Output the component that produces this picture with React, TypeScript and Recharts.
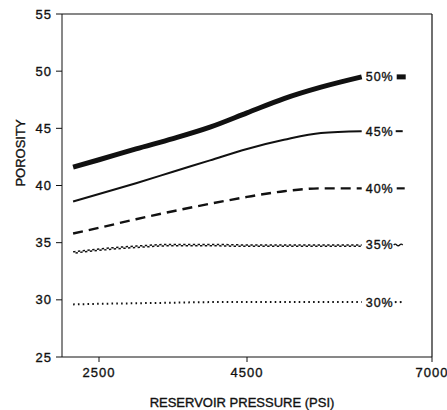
import { LineChart, Line, XAxis, YAxis, ReferenceLine } from 'recharts'

// pressure (psi) at which the curves were read
const pressure = [2150, 2500, 3000, 3500, 4000, 4500, 5000, 5500, 6050]
// porosity curves, one per label
const por50 = [41.6, 42.25, 43.2, 44.1, 45.1, 46.35, 47.6, 48.6, 49.5]
const por45 = [38.6, 39.25, 40.2, 41.2, 42.2, 43.2, 44.0, 44.6, 44.75]
const por40 = [35.8, 36.3, 37.05, 37.75, 38.4, 39.0, 39.5, 39.75, 39.75]
const por35 = [34.2, 34.45, 34.7, 34.85, 34.85, 34.8, 34.8, 34.8, 34.8]
const por30 = [29.6, 29.65, 29.7, 29.75, 29.8, 29.8, 29.8, 29.8, 29.8]

const yTicks = [25, 30, 35, 40, 45, 50, 55]
const xTicks = [2500, 4500, 7000]

const data = pressure.map((p, i) => ({
  p,
  por50: por50[i],
  por45: por45[i],
  por40: por40[i],
  por35: por35[i],
  por30: por30[i],
}))

const last = pressure.length - 1
const ink = '#111'
const font = '"Liberation Sans", Arial, Helvetica, sans-serif'
// scanned text is a bit heavier than a plain regular weight
const heavy = { stroke: ink, strokeWidth: 0.35 }

// label + little style sample at the end of each curve
const endLabel = (text: string, kind: string) => (props: any) => {
  if (props.index !== last) return null
  const x = props.x ?? props.viewBox?.x
  const y = props.y ?? props.viewBox?.y
  let swatch = null
  if (kind === 'thick') {
    swatch = <rect x={x + 35} y={y - 2.5} width={9} height={5} fill={ink} />
  } else if (kind === 'solid') {
    swatch = <line x1={x + 34} x2={x + 41} y1={y} y2={y} stroke={ink} strokeWidth={2} />
  } else if (kind === 'dash') {
    swatch = <line x1={x + 35} x2={x + 43} y1={y} y2={y} stroke={ink} strokeWidth={2.2} />
  } else if (kind === 'wave') {
    swatch = (
      <path
        d={`M${x + 32},${y} q1.5,-1.6 3,0 t3,0 t3,0`}
        fill="none"
        stroke={ink}
        strokeWidth={1.3}
      />
    )
  } else {
    swatch = (
      <g fill={ink}>
        <circle cx={x + 34} cy={y} r={1.1} />
        <circle cx={x + 39} cy={y} r={1.1} />
      </g>
    )
  }
  return (
    <g>
      <text
        x={x + 4}
        y={y + 4.5}
        fontSize={12.5}
        fill={ink}
        letterSpacing={1}
        fontFamily={font}
        {...heavy}
      >
        {text}
      </text>
      {swatch}
    </g>
  )
}

export default function App() {
  return (
    <div style={{ position: 'absolute', left: 0, top: 0, fontFamily: font, background: '#fff' }}>
      <style>{`.wave-b { transform: translate(0px, 1.4px); }`}</style>
      <LineChart
        width={447}
        height={410}
        data={data}
        margin={{ top: 14, right: 15, bottom: 0, left: 0 }}
      >
        <XAxis
          dataKey="p"
          type="number"
          domain={[2000, 7000]}
          ticks={xTicks}
          height={53}
          stroke={ink}
          tickSize={5}
          tickMargin={6}
          tick={{ fontSize: 13, fill: ink, letterSpacing: 1, ...heavy }}
          label={(props: any) => {
            const vb = props.viewBox
            return (
              <text
                x={vb.x + vb.width / 2 - 5}
                y={407}
                textAnchor="middle"
                fontSize={13}
                fill={ink}
                fontFamily={font}
                {...heavy}
              >
                RESERVOIR PRESSURE (PSI)
              </text>
            )
          }}
        />
        <YAxis
          type="number"
          domain={[25, 55]}
          ticks={yTicks}
          width={62}
          stroke={ink}
          tickSize={6}
          tickMargin={4}
          tick={{ fontSize: 13, fill: ink, letterSpacing: 1, ...heavy }}
          label={() => (
            <text
              x={25}
              y={153}
              transform="rotate(-90 25 153)"
              textAnchor="middle"
              fontSize={13}
              fill={ink}
              fontFamily={font}
              {...heavy}
            >
              POROSITY
            </text>
          )}
        />
        <ReferenceLine y={55} stroke={ink} strokeWidth={1.2} />
        <ReferenceLine x={7000} stroke={ink} strokeWidth={1.2} />
        <Line
          dataKey="por50"
          type="monotone"
          stroke={ink}
          strokeWidth={5}
          dot={false}
          isAnimationActive={false}
          label={endLabel('50%', 'thick')}
        />
        <Line
          dataKey="por45"
          type="monotone"
          stroke={ink}
          strokeWidth={2}
          dot={false}
          isAnimationActive={false}
          label={endLabel('45%', 'solid')}
        />
        <Line
          dataKey="por40"
          type="monotone"
          stroke={ink}
          strokeWidth={2.4}
          strokeDasharray="10 6"
          dot={false}
          isAnimationActive={false}
          label={endLabel('40%', 'dash')}
        />
        <Line
          dataKey="por35"
          type="monotone"
          stroke={ink}
          strokeWidth={1.5}
          strokeDasharray="2.4 2.4"
          dot={false}
          isAnimationActive={false}
          label={endLabel('35%', 'wave')}
        />
        <Line
          className="wave-b"
          dataKey="por35"
          type="monotone"
          stroke={ink}
          strokeWidth={1.5}
          strokeDasharray="2.4 2.4"
          strokeDashoffset={2.4}
          dot={false}
          isAnimationActive={false}
        />
        <Line
          dataKey="por30"
          type="monotone"
          stroke={ink}
          strokeWidth={2}
          strokeDasharray="1.6 3.2"
          dot={false}
          isAnimationActive={false}
          label={endLabel('30%', 'dot')}
        />
      </LineChart>
    </div>
  )
}
